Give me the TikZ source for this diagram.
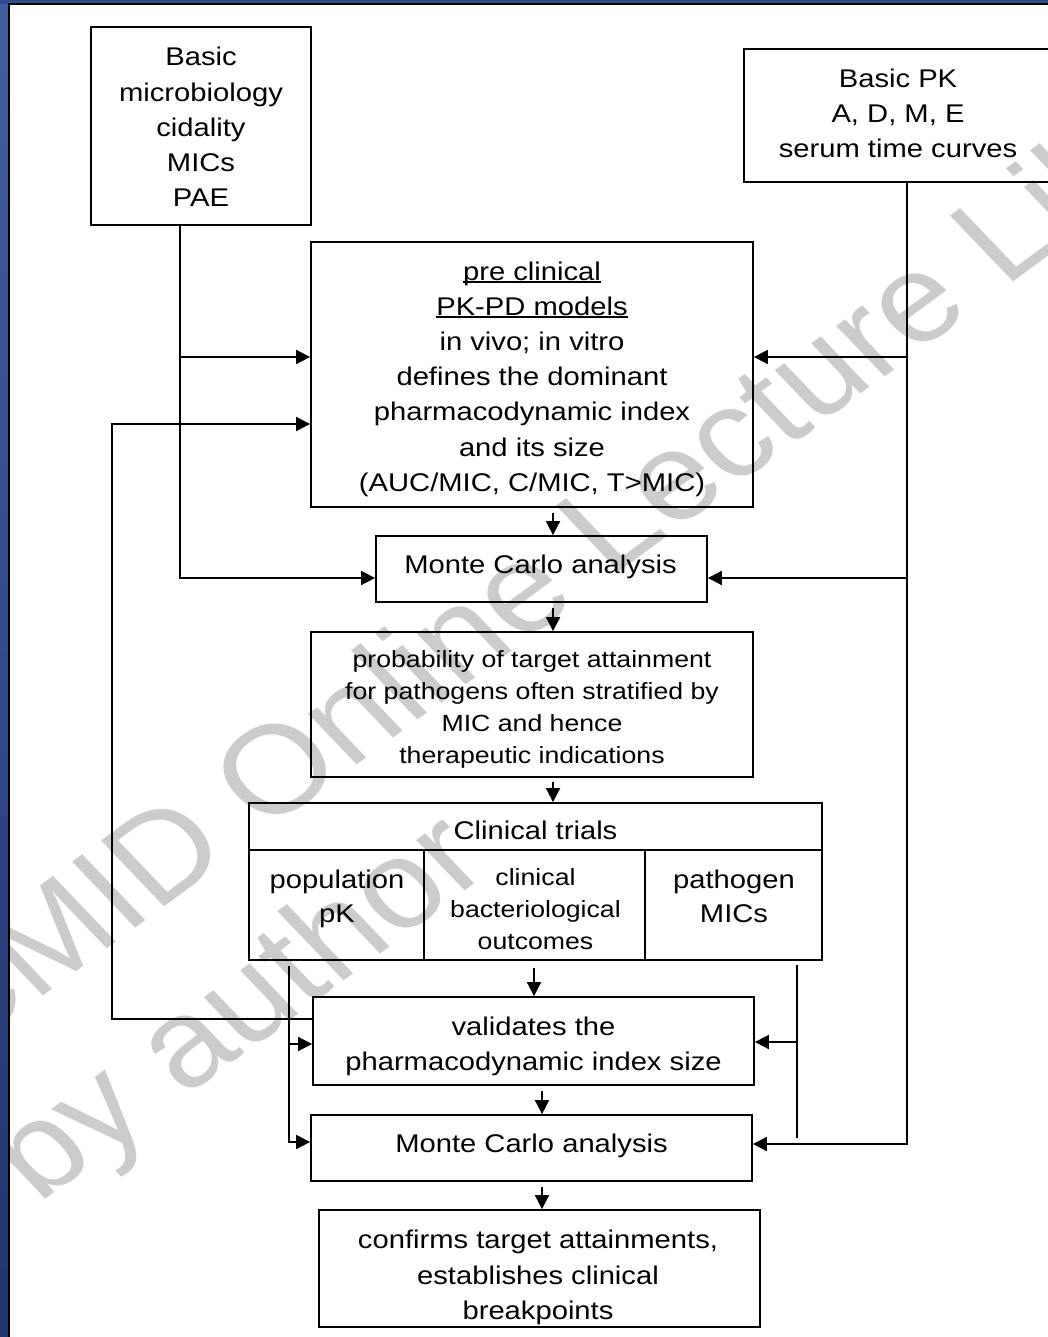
\documentclass[tikz,border=0pt]{standalone}
\usepackage{fontspec}
\setmainfont{Liberation Sans}[FakeStretch=1.14]
\newfontfamily\wmfont{Liberation Sans}
\usetikzlibrary{arrows.meta,calc}
\definecolor{frameblue}{RGB}{48,76,140}
\definecolor{frametop}{RGB}{64,94,160}
\definecolor{framebot}{RGB}{34,52,112}
\definecolor{wmgray}{RGB}{204,204,204}
\newcommand\bigtxt{\fontsize{25.6pt}{35.2pt}\selectfont}
\newcommand\smalltxt{\fontsize{23.4pt}{32pt}\selectfont}
\newcommand\celltxt{\fontsize{25.6pt}{34pt}\selectfont}
\newcommand\ulx[1]{\sbox0{#1}\rlap{\rule[-2.5pt]{\wd0}{1.4pt}}\usebox0}
\tikzset{
  box/.style={draw, line width=1.8pt, inner sep=0pt},
  txt/.style={inner sep=0pt, align=center, font=\bigtxt},
  conn/.style={line width=1.8pt},
  arr/.style={conn, -{Triangle[length=14pt,width=14pt]}},
  wm/.style={wmgray, font=\wmfont\fontsize{125pt}{144pt}\selectfont, rotate=40, transform shape, anchor=base west, inner sep=0pt}
}
\begin{document}
\begin{tikzpicture}[x=1pt,y=-1pt]
\useasboundingbox (0,0) rectangle (1048,1337);
\fill[white] (0,0) rectangle (1048,1337);
% watermark
\begin{scope}[xscale=1.14]
\node[wm] (wm1) at (-167,1168) {ESCMID Online Lecture Library};
\node[wm] (wm2) at (34,1205) {by author};
\end{scope}
% frame
\shade[top color=frametop, bottom color=framebot] (0,0) rectangle (8,1337);
\fill[frameblue] (0,0) rectangle (1048,4);
\draw[line width=2pt] (8.5,1337) -- (8.5,4.5) -- (1048,4.5);
% boxes
\node[box, minimum width=220pt, minimum height=198pt] (A) at (201,126) {};
\node[box, minimum width=308pt, minimum height=133pt] (B) at (898,115.5) {};
\node[box, minimum width=442pt, minimum height=265pt] (C) at (532,374.5) {};
\node[box, minimum width=331pt, minimum height=66pt] (D) at (541.5,569) {};
\node[box, minimum width=442pt, minimum height=145pt] (E) at (532,704.5) {};
\node[box, minimum width=573pt, minimum height=157pt] (F) at (535.5,881.5) {};
\node[box, minimum width=441pt, minimum height=88pt] (G) at (533.5,1041) {};
\node[box, minimum width=441pt, minimum height=66pt] (H) at (531.5,1148) {};
\node[box, minimum width=441pt, minimum height=117pt] (I) at (539.5,1268.5) {};
% box texts
\node[txt] (At) at ($(A)+(0,1)$) {Basic\\microbiology\\cidality\\MICs\\PAE};
\node[txt] (Bt) at ($(B)+(0,-2)$) {Basic PK\\A, D, M, E\\serum time curves};
\node[txt] (Ct) at ($(C)+(0,4.5)$) {\ulx{pre clinical}\\\ulx{PK-PD models}\\in vivo; in vitro\\defines the dominant\\pharmacodynamic index\\and its size\\(AUC/MIC, C/MIC, T>MIC)};
\node[txt] (Dt) at ($(D)+(-1,-2)$) {Monte Carlo analysis};
\node[txt, font=\smalltxt] (Et) at ($(E)+(0,5)$) {probability of target attainment\\for pathogens often stratified by\\MIC and hence\\therapeutic indications};
\node[txt] (Gt) at ($(G)+(0,5)$) {validates the\\pharmacodynamic index size};
\node[txt] (Ht) at ($(H)+(0,-2)$) {Monte Carlo analysis};
\node[txt] (It) at (538,1277.5) {confirms target attainments,\\establishes clinical\\breakpoints};
% clinical trials table
\draw[line width=1.8pt] ($(F.north west)+(0,48)$) -- ($(F.north east)+(0,48)$);
\draw[line width=1.8pt] ($(F.north west)+(176,48)$) -- ($(F.south west)+(176,0)$);
\draw[line width=1.8pt] ($(F.north west)+(397,48)$) -- ($(F.south west)+(397,0)$);
\node[txt] (Fh) at (535.5,830.5) {Clinical trials};
\node[txt, font=\celltxt] (F1) at (337,899) {population\\pK};
\node[txt, font=\smalltxt] (F2) at (535.5,909) {clinical\\bacteriological\\outcomes};
\node[txt, font=\celltxt] (F3) at (734,896.5) {pathogen\\MICs};
% left trunk from A
\coordinate (aS) at ($(A.south)+(-21,0)$);
\coordinate (cW1) at ($(C.west)+(0,-17.5)$);
\coordinate (dW) at ($(D.west)+(0,9)$);
\draw[arr] (aS) |- (dW);
\draw[arr] (aS |- cW1) -- (cW1);
% right trunk from B
\coordinate (bS) at ($(B.south)+(9,0)$);
\coordinate (cE1) at ($(C.east)+(0,-17.5)$);
\coordinate (dE) at ($(D.east)+(0,9)$);
\coordinate (hE) at ($(H.east)+(0,-4)$);
\draw[arr] (bS) |- (hE);
\draw[arr] (bS |- cE1) -- (cE1);
\draw[arr] (bS |- dE) -- (dE);
% feedback loop
\coordinate (gW1) at ($(G.west)+(0,-22)$);
\coordinate (cW2) at ($(C.west)+(0,49.5)$);
\draw[arr] (gW1) -- ++(-200,0) |- (cW2);
% from clinical trials, left
\coordinate (fL) at ($(F.south west)+(41,5)$);
\coordinate (gW2) at ($(G.west)+(0,3)$);
\coordinate (hW) at ($(H.west)+(0,-6)$);
\draw[arr] (fL) |- (hW);
\draw[arr] (fL |- gW2) -- (gW2);
% from clinical trials, right
\coordinate (fR) at ($(F.south east)+(-26,4)$);
\coordinate (gE) at ($(G.east)+(0,1)$);
\draw[conn] (fR) -- ($(fR |- hE)+(0,-6)$);
\draw[arr] (fR |- gE) -- (gE);
% down arrows
\coordinate (cd) at ($(C.south)+(21,0)$);
\draw[arr] ($(cd)+(0,5)$) -- (cd |- D.north);
\coordinate (de) at ($(D.south)+(11.5,0)$);
\draw[arr] ($(de)+(0,5)$) -- (de |- E.north);
\coordinate (ef) at ($(E.south)+(21,0)$);
\draw[arr] ($(ef)+(0,4)$) -- (ef |- F.north);
\coordinate (fg) at ($(F.south)+(-1.5,0)$);
\draw[arr] ($(fg)+(0,7)$) -- (fg |- G.north);
\coordinate (gh) at ($(G.south)+(8.5,0)$);
\draw[arr] ($(gh)+(0,5)$) -- (gh |- H.north);
\coordinate (hi) at ($(H.south)+(10.5,0)$);
\draw[arr] ($(hi)+(0,5)$) -- (hi |- I.north);
\end{tikzpicture}
\end{document}
